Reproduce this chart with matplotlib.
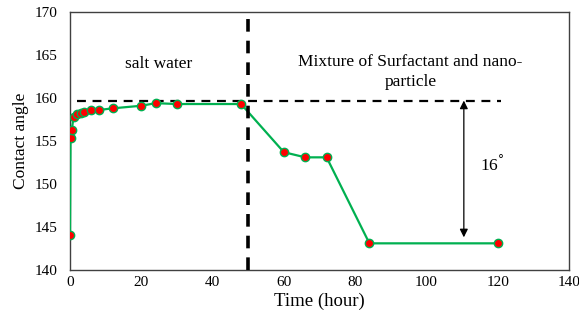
import matplotlib
matplotlib.use("Agg")
import matplotlib.pyplot as plt

# contact angle measurements
time_hr = [0, 0.15, 0.5, 1, 2, 3, 4, 6, 8, 12, 20, 24, 30, 48, 60, 66, 72, 84, 120]
angle = [144.1, 155.3, 156.3, 157.8, 158.1, 158.3, 158.4, 158.6, 158.6, 158.8,
         159.1, 159.4, 159.3, 159.3, 153.7, 153.1, 153.1, 143.1, 143.1]

ref_level = 159.7
switch_time = 50
arrow_x = 110.5
arrow_bottom = 143.8
x_ticks = [0, 20, 40, 60, 80, 100, 120, 140]
y_ticks = [140, 145, 150, 155, 160, 165, 170]

plt.rcParams["font.family"] = ["Liberation Serif", "DejaVu Serif"]

fig = plt.figure(figsize=(5.79, 3.22), dpi=100)
ax = fig.add_axes([0.1209, 0.1615, 0.8618, 0.8012])

ax.plot(time_hr, angle, color="#00B050", linewidth=1.6, marker="o",
        markersize=6, markerfacecolor="#FF0000", markeredgecolor="#00B050",
        markeredgewidth=1, zorder=3)

ax.plot([2, 121], [ref_level, ref_level], color="black", linestyle=(0, (4, 3)),
        linewidth=1.6, zorder=2)
ax.axvline(switch_time, color="black", linestyle=(0, (3.5, 2.5)), linewidth=2.6, zorder=4)

ax.annotate("", xy=(arrow_x, ref_level), xytext=(arrow_x, arrow_bottom),
            arrowprops=dict(arrowstyle="<|-|>", color="black", lw=0.9,
                            mutation_scale=12, shrinkA=0, shrinkB=0))
ax.text(118.5, 152.3, "16$^{\\degree}$", fontsize=12.5, ha="center", va="center")

ax.text(25, 163.9, "salt water", fontsize=12.5, ha="center", va="center")
ax.text(95.5, 163.0, "Mixture of Surfactant and nano-\nparticle", fontsize=12.5,
        ha="center", va="center", linespacing=1.3)

ax.set_xlim(0, 140)
ax.set_ylim(140, 170)
ax.set_xticks(x_ticks)
ax.set_yticks(y_ticks)
ax.tick_params(length=0, labelsize=11)
ax.tick_params(axis="y", pad=9)
ax.tick_params(axis="x", pad=4)
for s in ax.spines.values():
    s.set_color("#404040")
    s.set_linewidth(1)

ax.set_xlabel("Time (hour)", fontsize=13.5, labelpad=3)
ax.set_ylabel("Contact angle", fontsize=12.5, labelpad=4)

fig.savefig("out.png", dpi=100)
